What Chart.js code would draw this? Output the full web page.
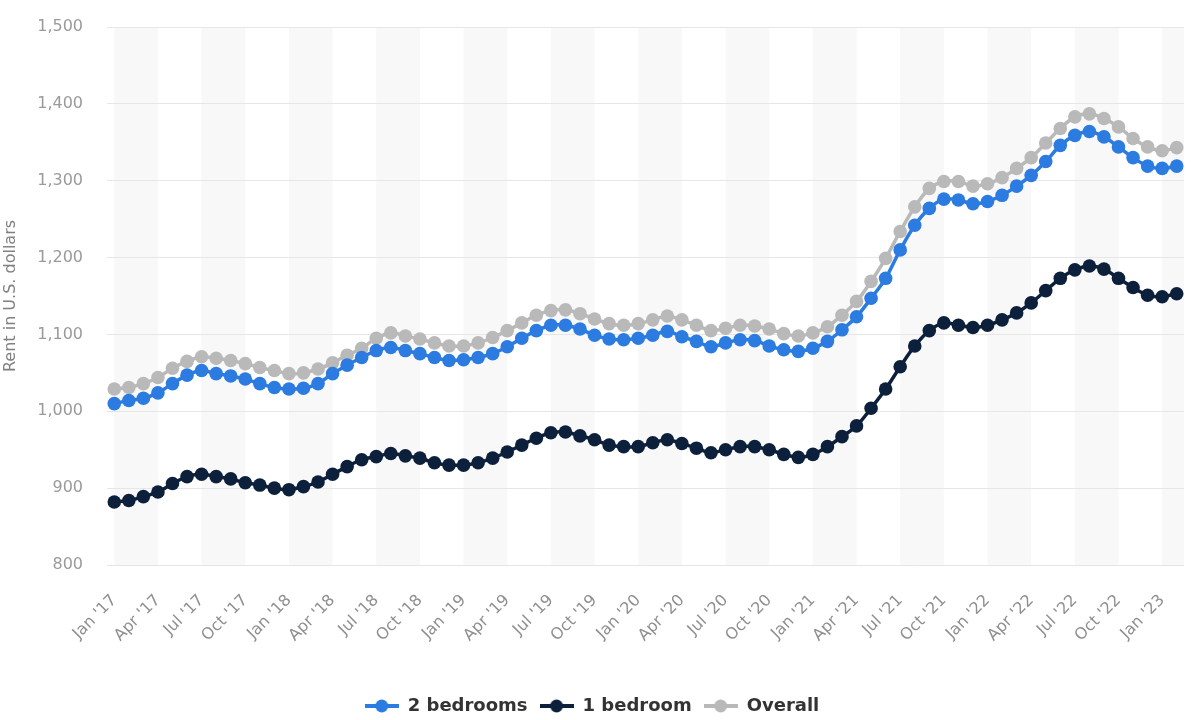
<!DOCTYPE html>
<html>
<head>
<meta charset="utf-8">
<script src="https://cdn.jsdelivr.net/npm/chart.js@4"></script>
<style>
  html, body { margin: 0; padding: 0; background: #fff; }
</style>
</head>
<body>
<canvas id="rentChart" width="1197" height="720"></canvas>
<script>
const months = [
  "Jan '17", "Feb '17", "Mar '17", "Apr '17", "May '17", "Jun '17", "Jul '17", "Aug '17", "Sep '17", "Oct '17", "Nov '17", "Dec '17",
  "Jan '18", "Feb '18", "Mar '18", "Apr '18", "May '18", "Jun '18", "Jul '18", "Aug '18", "Sep '18", "Oct '18", "Nov '18", "Dec '18",
  "Jan '19", "Feb '19", "Mar '19", "Apr '19", "May '19", "Jun '19", "Jul '19", "Aug '19", "Sep '19", "Oct '19", "Nov '19", "Dec '19",
  "Jan '20", "Feb '20", "Mar '20", "Apr '20", "May '20", "Jun '20", "Jul '20", "Aug '20", "Sep '20", "Oct '20", "Nov '20", "Dec '20",
  "Jan '21", "Feb '21", "Mar '21", "Apr '21", "May '21", "Jun '21", "Jul '21", "Aug '21", "Sep '21", "Oct '21", "Nov '21", "Dec '21",
  "Jan '22", "Feb '22", "Mar '22", "Apr '22", "May '22", "Jun '22", "Jul '22", "Aug '22", "Sep '22", "Oct '22", "Nov '22", "Dec '22",
  "Jan '23", "Feb '23"
]

const twoBedrooms = [
  1010, 1014, 1017, 1024, 1036, 1047, 1053, 1049, 1046, 1042, 1036, 1031,
  1029, 1030, 1036, 1049, 1060, 1070, 1079, 1083, 1079, 1075, 1070, 1066,
  1067, 1070, 1075, 1084, 1095, 1105, 1112, 1112, 1107, 1099, 1094, 1093,
  1095, 1099, 1104, 1097, 1091, 1084, 1089, 1093, 1092, 1085, 1080, 1078,
  1082, 1091, 1106, 1123, 1147, 1173, 1210, 1242, 1264, 1276, 1275, 1270,
  1273, 1281, 1293, 1307, 1325, 1346, 1359, 1364, 1357, 1344, 1330, 1319,
  1316, 1319
]

const oneBedroom = [
  882, 884, 889, 895, 906, 915, 918, 915, 912, 907, 904, 900,
  898, 902, 908, 918, 928, 937, 941, 945, 942, 939, 933, 930,
  930, 933, 939, 947, 956, 965, 972, 973, 968, 963, 956, 954,
  954, 959, 963, 958, 952, 946, 950, 954, 954, 950, 944, 940,
  944, 954, 967, 981, 1004, 1029, 1058, 1085, 1105, 1115, 1112, 1109,
  1112, 1119, 1128, 1141, 1157, 1173, 1184, 1189, 1185, 1173, 1161, 1151,
  1149, 1153
]

const overall = [
  1029, 1031, 1036, 1044, 1056, 1065, 1071, 1069, 1066, 1062, 1057, 1053,
  1049, 1050, 1055, 1063, 1073, 1082, 1095, 1102, 1098, 1094, 1089, 1085,
  1085, 1089, 1096, 1105, 1115, 1125, 1131, 1132, 1127, 1120, 1114, 1112,
  1114, 1119, 1124, 1119, 1112, 1105, 1108, 1112, 1111, 1107, 1101, 1098,
  1102, 1110, 1125, 1143, 1169, 1199, 1234, 1266, 1290, 1299, 1299, 1293,
  1296, 1304, 1316, 1330, 1349, 1368, 1383, 1387, 1381, 1370, 1355, 1344,
  1339, 1343
]

const seriesColors = ['#2b7be0', '#0d203b', '#b9b9b9']

Chart.defaults.font.family = "'DejaVu Sans', sans-serif"

// legend marker: short line with a dot in the middle
function legendMarker(color) {
  const c = document.createElement('canvas')
  c.width = 34
  c.height = 14
  const ctx = c.getContext('2d')
  ctx.strokeStyle = color
  ctx.lineWidth = 4
  ctx.beginPath()
  ctx.moveTo(0, 7)
  ctx.lineTo(34, 7)
  ctx.stroke()
  ctx.fillStyle = color
  ctx.beginPath()
  ctx.arc(17, 7, 6.5, 0, Math.PI * 2)
  ctx.fill()
  return c
}
const markers = seriesColors.map(legendMarker)

// alternating column bands every 3 months
const bandPlugin = {
  id: 'bands',
  beforeDraw(chart) {
    const { ctx, chartArea, scales: { x } } = chart
    ctx.save()
    ctx.fillStyle = '#f8f8f8'
    for (let i = 0; i < months.length; i += 6) {
      const x0 = x.getPixelForValue(i)
      const x1 = i + 3 < months.length ? x.getPixelForValue(i + 3) : chartArea.right
      ctx.fillRect(x0, chartArea.top, x1 - x0, chartArea.bottom - chartArea.top)
    }
    ctx.restore()
  }
}

function lineSet(label, data, color) {
  return {
    label,
    data,
    borderColor: color,
    backgroundColor: color,
    pointBackgroundColor: color,
    pointBorderWidth: 0,
    pointRadius: 6.8,
    pointHoverRadius: 6.8,
    borderWidth: 3.5,
    tension: 0.3
  }
}

function noPadding(s) {
  s.paddingLeft = 0
  s.paddingRight = 0
  s.paddingTop = 0
  s.paddingBottom = 0
}

new Chart(document.getElementById('rentChart'), {
  type: 'line',
  data: {
    labels: months,
    datasets: [
      lineSet('2 bedrooms', twoBedrooms, seriesColors[0]),
      lineSet('1 bedroom', oneBedroom, seriesColors[1]),
      lineSet('Overall', overall, seriesColors[2])
    ]
  },
  plugins: [bandPlugin],
  options: {
    responsive: false,
    animation: false,
    layout: { padding: { top: 27, right: 13, left: 0, bottom: -5 } },
    scales: {
      x: {
        offset: true,
        grid: { display: false, drawTicks: false },
        border: { display: false },
        ticks: {
          autoSkip: false,
          minRotation: 45,
          maxRotation: 45,
          padding: 26,
          color: '#8f8f8f',
          font: { size: 16 },
          callback: (v, i) => (i % 3 === 0 ? months[i] : '')
        },
        afterFit: (s) => { noPadding(s); s.height = 120 }
      },
      y: {
        min: 800,
        max: 1500,
        grid: { color: '#e6e6e6', drawTicks: false },
        border: { display: false },
        ticks: {
          stepSize: 100,
          padding: 24,
          color: '#9a9a9a',
          font: { size: 16 },
          callback: (v) => v.toLocaleString('en-US')
        },
        title: {
          display: true,
          text: 'Rent in U.S. dollars',
          color: '#808080',
          font: { size: 16 },
          padding: { top: 1, bottom: 0 }
        },
        afterFit: (s) => { noPadding(s); s.width = 107 }
      }
    },
    plugins: {
      tooltip: { enabled: false },
      legend: {
        position: 'bottom',
        labels: {
          usePointStyle: true,
          pointStyleWidth: 34,
          padding: 12,
          color: '#333',
          font: { size: 18, weight: 'bold' },
          generateLabels: (chart) =>
            Chart.defaults.plugins.legend.labels.generateLabels(chart).map((item, i) => ({ ...item, pointStyle: markers[i] }))
        }
      }
    }
  }
})
</script>
</body>
</html>
